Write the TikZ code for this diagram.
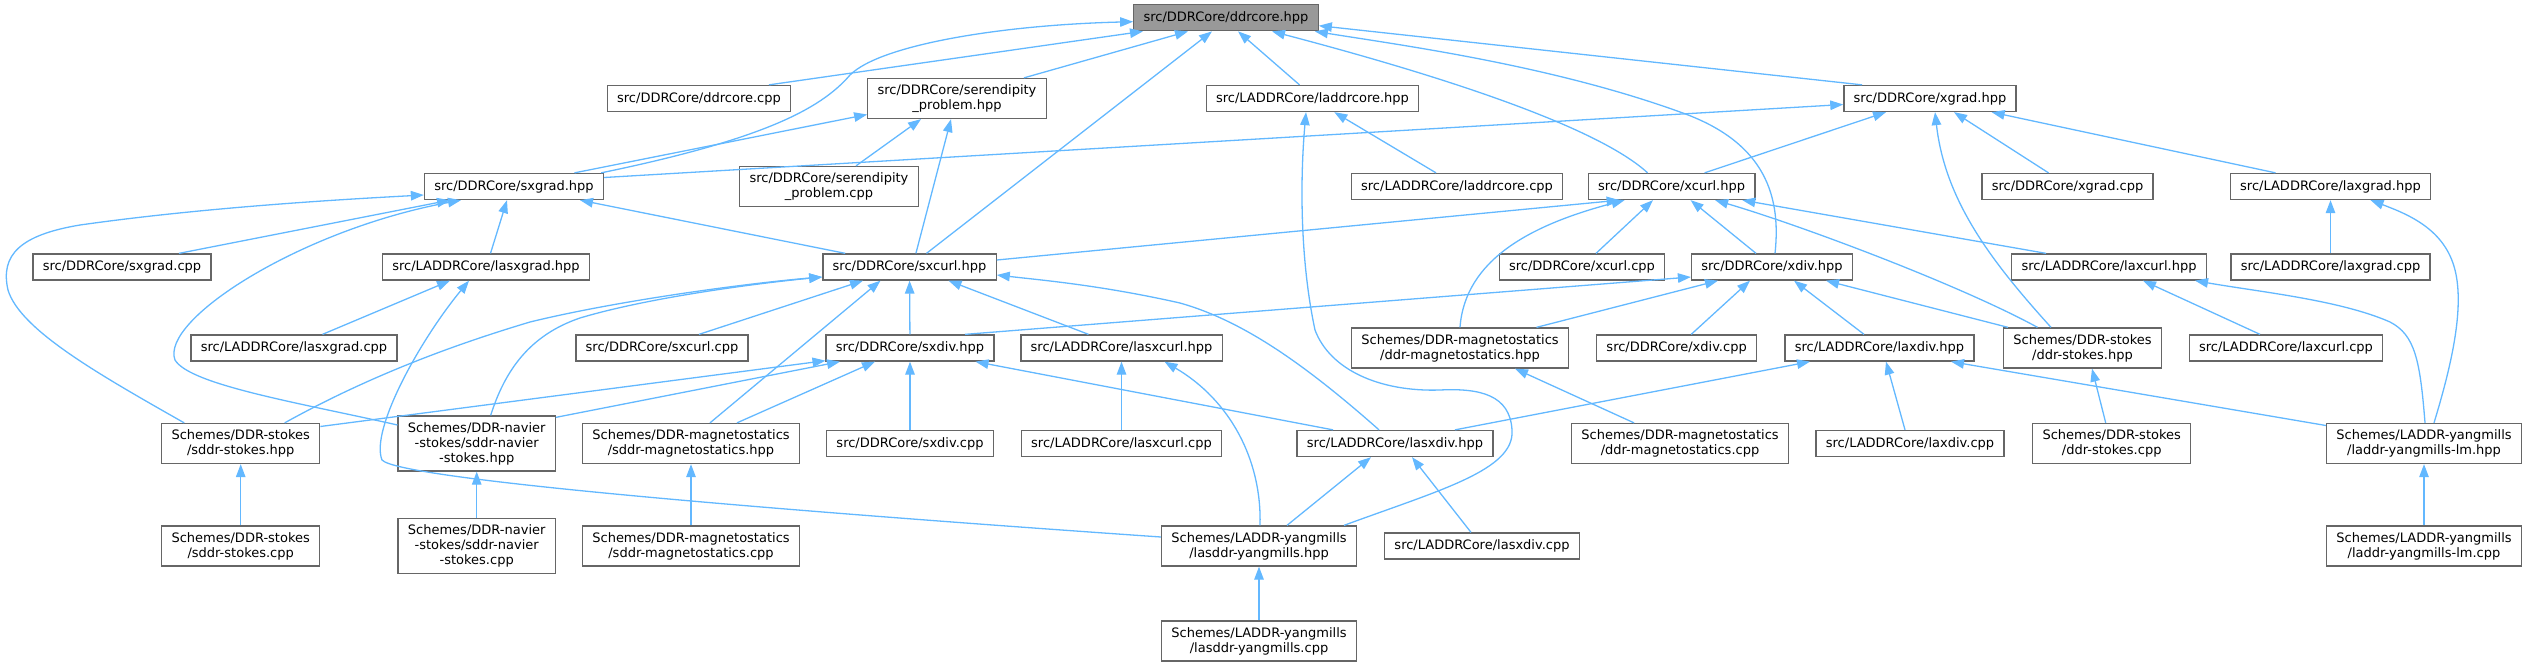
\documentclass[tikz,border=0pt]{standalone}
\usepackage{fontspec}
\setmainfont{DejaVu Sans}
\usetikzlibrary{arrows.meta,calc}
\definecolor{edgec}{HTML}{63B8FF}
\definecolor{boxc}{HTML}{666666}
\definecolor{rootc}{HTML}{999999}
\begin{document}
\begin{tikzpicture}[x=1pt,y=-1pt,
 box/.style={draw=boxc, line width=1.3pt, fill=white, inner xsep=9.8pt, inner ysep=0pt, align=center, font=\fontsize{13}{15}\selectfont},
 b1/.style={box, minimum height=26pt},
 b2/.style={box, minimum height=40pt},
 b3/.style={box, minimum height=55pt},
 root/.style={fill=rootc},
 edge/.style={draw=edgec, line width=1.3pt, -{Triangle[length=13pt,width=9.5pt]}}]
\useasboundingbox (0,0) rectangle (2524,667);
% row 0
\node[b1,root] (ddr) at (1226,17.7) {src/DDRCore/ddrcore.hpp};
% row 1
\node[b1] (ddrcpp) at (699,98.5) {src/DDRCore/ddrcore.cpp};
\node[b2] (serh) at (957,98.5) {src/DDRCore/serendipity\\\_problem.hpp};
\node[b1] (laddr) at (1312.5,98.5) {src/LADDRCore/laddrcore.hpp};
\node[b1] (xgrad) at (1930,98.5) {src/DDRCore/xgrad.hpp};
% row 2
\node[b1] (sxgrad) at (514,186.5) {src/DDRCore/sxgrad.hpp};
\node[b2] (serc) at (829,186.5) {src/DDRCore/serendipity\\\_problem.cpp};
\node[b1] (laddrc) at (1457,186.5) {src/LADDRCore/laddrcore.cpp};
\node[b1] (xcurl) at (1671.6,186.5) {src/DDRCore/xcurl.hpp};
\node[b1] (xgradc) at (2067.5,186.5) {src/DDRCore/xgrad.cpp};
\node[b1] (laxgrad) at (2330.5,186.5) {src/LADDRCore/laxgrad.hpp};
% row 3
\node[b1] (sxgradc) at (122,267) {src/DDRCore/sxgrad.cpp};
\node[b1] (lasxgrad) at (486,267) {src/LADDRCore/lasxgrad.hpp};
\node[b1] (sxcurl) at (909.5,267) {src/DDRCore/sxcurl.hpp};
\node[b1] (xcurlc) at (1582,267) {src/DDRCore/xcurl.cpp};
\node[b1] (xdiv) at (1772,267) {src/DDRCore/xdiv.hpp};
\node[b1] (laxcurl) at (2109,267) {src/LADDRCore/laxcurl.hpp};
\node[b1] (laxgradc) at (2330.5,267) {src/LADDRCore/laxgrad.cpp};
% row 4
\node[b1] (lasxgradc) at (294,348) {src/LADDRCore/lasxgrad.cpp};
\node[b1] (sxcurlc) at (662,348) {src/DDRCore/sxcurl.cpp};
\node[b1] (sxdiv) at (910,348) {src/DDRCore/sxdiv.hpp};
\node[b1] (lasxcurl) at (1121.5,348) {src/LADDRCore/lasxcurl.hpp};
\node[b2] (ddrmh) at (1460,348) {Schemes/DDR-magnetostatics\\/ddr-magnetostatics.hpp};
\node[b1] (xdivc) at (1676.6,348) {src/DDRCore/xdiv.cpp};
\node[b1] (laxdiv) at (1879.5,348) {src/LADDRCore/laxdiv.hpp};
\node[b2] (ddrsh) at (2082.5,348) {Schemes/DDR-stokes\\/ddr-stokes.hpp};
\node[b1] (laxcurlc) at (2286,348) {src/LADDRCore/laxcurl.cpp};
% row 5
\node[b2] (sddrsh) at (240.7,443.5) {Schemes/DDR-stokes\\/sddr-stokes.hpp};
\node[b3] (navh) at (476.7,443.5) {Schemes/DDR-navier\\-stokes/sddr-navier\\-stokes.hpp};
\node[b2] (sddrmh) at (691,443.5) {Schemes/DDR-magnetostatics\\/sddr-magnetostatics.hpp};
\node[b1] (sxdivc) at (910,443.5) {src/DDRCore/sxdiv.cpp};
\node[b1] (lasxcurlc) at (1121.5,443.5) {src/LADDRCore/lasxcurl.cpp};
\node[b1] (lasxdiv) at (1395,443.5) {src/LADDRCore/lasxdiv.hpp};
\node[b2] (ddrmc) at (1680,443.5) {Schemes/DDR-magnetostatics\\/ddr-magnetostatics.cpp};
\node[b1] (laxdivc) at (1910,443.5) {src/LADDRCore/laxdiv.cpp};
\node[b2] (ddrsc) at (2111.7,443.5) {Schemes/DDR-stokes\\/ddr-stokes.cpp};
\node[b2] (lmh) at (2424,443.5) {Schemes/LADDR-yangmills\\/laddr-yangmills-lm.hpp};
% row 6
\node[b2] (sddrsc) at (240.7,546) {Schemes/DDR-stokes\\/sddr-stokes.cpp};
\node[b3] (navc) at (476.7,546) {Schemes/DDR-navier\\-stokes/sddr-navier\\-stokes.cpp};
\node[b2] (sddrmc) at (691,546) {Schemes/DDR-magnetostatics\\/sddr-magnetostatics.cpp};
\node[b2] (lasddrh) at (1259,546) {Schemes/LADDR-yangmills\\/lasddr-yangmills.hpp};
\node[b1] (lasxdivc) at (1482,546) {src/LADDRCore/lasxdiv.cpp};
\node[b2] (lmc) at (2424,546) {Schemes/LADDR-yangmills\\/laddr-yangmills-lm.cpp};
% row 7
\node[b2] (lasddrc) at (1259,641) {Schemes/LADDR-yangmills\\/lasddr-yangmills.cpp};

% ---- edges (child -> parent) ----
% into ddrcore.hpp
\draw[edge] ($(ddrcpp.north)+(70,0)$) -- ($(ddr.south)+(-83,0)$);
\draw[edge] ($(serh.north)+(67,0)$) -- ($(ddr.south)+(-38,0)$);
\draw[edge] ($(sxcurl.north)+(17,0)$) -- ($(ddr.south)+(-14,0)$);
\draw[edge] ($(laddr.north)+(-13,0)$) -- ($(ddr.south)+(12,0)$);
\draw[edge] ($(xcurl.north)+(-24,0)$) .. controls (1590,120) and (1400,65) .. ($(ddr.south)+(46,0)$);
\draw[edge] ($(xdiv.north)+(3,0)$) .. controls (1782,190) and (1760,140) .. (1680,112) .. controls (1550,65) and (1400,45) .. ($(ddr.south east)+(-4,0)$);
\draw[edge] ($(xgrad.north)+(-68,0)$) -- ($(ddr.east)+(0,8)$);
\draw[edge] ($(sxgrad.north east)+(-3,0)$) .. controls (760,140) and (820,110) .. (850,75) .. controls (880,45) and (1000,25) .. ($(ddr.west)+(0,4)$);
% into serendipity_problem.hpp
\draw[edge] ($(sxgrad.north)+(60.5,0)$) -- ($(serh.west)+(0,16)$);
\draw[edge] ($(serc.north)+(27,0)$) -- ($(serh.south)+(-36,0)$);
\draw[edge] ($(sxcurl.north)+(6.4,0)$) -- ($(serh.south)+(-6,0)$);
% into laddrcore.hpp
\draw[edge] ($(laddrc.north)+(-21,0)$) -- ($(laddr.south)+(21.8,0)$);
\draw[edge] ($(lasddrh.north)+(85,0)$) .. controls (1440,490) and (1515,470) .. (1512,430) .. controls (1510,395) and (1480,388) .. (1440,390) .. controls (1380,392) and (1330,370) .. (1315,330) .. controls (1300,260) and (1300,180) .. ($(laddr.south)+(-6.5,0)$);
% into xgrad.hpp
\draw[edge] ($(sxgrad.east)+(0,-9)$) -- ($(xgrad.west)+(0,6)$);
\draw[edge] ($(xcurl.north)+(33,0)$) -- ($(xgrad.south)+(-44,0)$);
\draw[edge] ($(ddrsh.north)+(-31.5,0)$) .. controls (1990,260) and (1945,200) .. ($(xgrad.south)+(5,0)$);
\draw[edge] ($(xgradc.north)+(-19,0)$) -- ($(xgrad.south)+(24,0)$);
\draw[edge] ($(laxgrad.north)+(-55,0)$) -- ($(xgrad.south)+(61.6,0)$);
% into sxgrad.hpp
\draw[edge] ($(sddrsh.north)+(-56.5,0)$) .. controls (100,375) and (20,330) .. (8,290) .. controls (0,255) and (20,235) .. (80,225) .. controls (200,208) and (330,200) .. ($(sxgrad.west)+(0,8.5)$);
\draw[edge] ($(sxgradc.north)+(57,0)$) -- ($(sxgrad.south)+(-64,0)$);
\draw[edge] ($(navh.west)+(0,-18.5)$) .. controls (300,403) and (190,385) .. (175,360) .. controls (160,320) and (300,230) .. ($(sxgrad.south)+(-53,0)$);
\draw[edge] ($(lasxgrad.north)+(4.5,0)$) -- ($(sxgrad.south)+(-7,0)$);
\draw[edge] ($(sxcurl.north west)+(23,0)$) -- ($(sxgrad.south)+(66,0)$);
% into lasxgrad.hpp
\draw[edge] ($(lasxgradc.north)+(28.5,0)$) -- ($(lasxgrad.south)+(-36,0)$);
\draw[edge] ($(lasddrh.west)+(0,-9)$) .. controls (800,512) and (400,480) .. (382,460) .. controls (370,430) and (420,340) .. ($(lasxgrad.south)+(-17,0)$);
% into sxcurl.hpp
\draw[edge] ($(sxcurl.east)+(0,-7)$) -- ($(xcurl.south)+(-52,0)$);
\draw[edge] ($(sddrsh.north)+(44,0)$) .. controls (380,370) and (470,340) .. (530,322) .. controls (620,300) and (750,283) .. ($(sxcurl.west)+(0,10)$);
\draw[edge] ($(navh.north)+(14,0)$) .. controls (505,370) and (530,335) .. (580,318) .. controls (650,297) and (760,283) .. ($(sxcurl.west)+(0,10)$);
\draw[edge] ($(sddrmh.north)+(19,0)$) -- ($(sxcurl.south)+(-29,0)$);
\draw[edge] ($(sxcurlc.north)+(37,0)$) -- ($(sxcurl.south)+(-46.5,0)$);
\draw[edge] (sxdiv) -- (sxcurl);
\draw[edge] ($(lasxcurl.north)+(-33,0)$) -- ($(sxcurl.south)+(39,0)$);
\draw[edge] ($(lasxdiv.north)+(-16,0)$) .. controls (1300,360) and (1240,320) .. (1180,303) .. controls (1100,285) and (1040,280) .. ($(sxcurl.east)+(0,8)$);
% into xcurl.hpp
\draw[edge] (ddrmh.north) .. controls (1465,260) and (1530,225) .. ($(xcurl.south)+(-47,0)$);
\draw[edge] ($(xcurlc.north)+(14,0)$) -- ($(xcurl.south)+(-18.6,0)$);
\draw[edge] ($(xdiv.north)+(-16,0)$) -- ($(xcurl.south)+(19,0)$);
\draw[edge] ($(ddrsh.north)+(-45,0)$) .. controls (1960,285) and (1800,225) .. ($(xcurl.south)+(43.5,0)$);
\draw[edge] ($(laxcurl.north)+(-63,0)$) -- ($(xcurl.south)+(70.7,0)$);
% into xdiv.hpp
\draw[edge] ($(sxdiv.north)+(55,0)$) -- ($(xdiv.west)+(0,10)$);
\draw[edge] ($(ddrmh.north)+(76.5,0)$) -- ($(xdiv.south)+(-54,0)$);
\draw[edge] ($(xdivc.north)+(14.6,0)$) -- ($(xdiv.south)+(-22,0)$);
\draw[edge] ($(laxdiv.north)+(-15.5,0)$) -- ($(xdiv.south)+(22,0)$);
\draw[edge] ($(ddrsh.north)+(-74.5,0)$) -- ($(xdiv.south)+(54,0)$);
% into laxgrad.hpp
\draw[edge] (laxgradc) -- (laxgrad);
\draw[edge] ($(lmh.north)+(10,0)$) .. controls (2450,370) and (2465,310) .. (2455,270) .. controls (2445,230) and (2410,215) .. ($(laxgrad.south)+(40,0)$);
% into laxcurl.hpp
\draw[edge] ($(laxcurlc.north)+(-26,0)$) -- ($(laxcurl.south)+(34,0)$);
\draw[edge] ($(lmh.north)+(1,0)$) .. controls (2420,360) and (2415,335) .. (2390,322) .. controls (2340,300) and (2260,292) .. ($(laxcurl.south)+(86,0)$);
% into laxdiv.hpp
\draw[edge] ($(lasxdiv.north)+(60,0)$) -- ($(laxdiv.south)+(-69.5,0)$);
\draw[edge] ($(laxdivc.north)+(-5,0)$) -- ($(laxdiv.south)+(6.5,0)$);
\draw[edge] ($(lmh.west)+(0,-18)$) -- ($(laxdiv.south)+(71.5,0)$);
% into ddr-stokes.hpp / ddr-magnetostatics.hpp
\draw[edge] ($(ddrsc.north)+(-6,0)$) -- ($(ddrsh.south)+(9.5,0)$);
\draw[edge] ($(ddrmc.north)+(-46,0)$) -- ($(ddrmh.south)+(55,0)$);
% into sxdiv.hpp
\draw[edge] ($(sddrsh.east)+(0,-17)$) -- ($(sxdiv.south west)+(0,-1)$);
\draw[edge] ($(navh.north east)+(0,2)$) -- ($(sxdiv.south)+(-70,0)$);
\draw[edge] ($(sddrmh.north)+(46,0)$) -- ($(sxdiv.south)+(-35,0)$);
\draw[edge] (sxdivc) -- (sxdiv);
\draw[edge] ($(lasxdiv.north)+(-62,0)$) -- ($(sxdiv.south)+(65.5,0)$);
% into lasxcurl.hpp
\draw[edge] (lasxcurlc) -- (lasxcurl);
\draw[edge] ($(lasddrh.north)+(1,0)$) .. controls (1262,460) and (1230,400) .. ($(lasxcurl.south)+(43,0)$);
% into lasxdiv.hpp
\draw[edge] ($(lasddrh.north)+(28,0)$) -- ($(lasxdiv.south)+(-24,0)$);
\draw[edge] ($(lasxdivc.north)+(-11,0)$) -- ($(lasxdiv.south)+(17,0)$);
% .cpp of schemes
\draw[edge] (sddrsc) -- (sddrsh);
\draw[edge] (navc) -- (navh);
\draw[edge] (sddrmc) -- (sddrmh);
\draw[edge] (lasddrc) -- (lasddrh);
\draw[edge] (lmc) -- (lmh);
\end{tikzpicture}
\end{document}
